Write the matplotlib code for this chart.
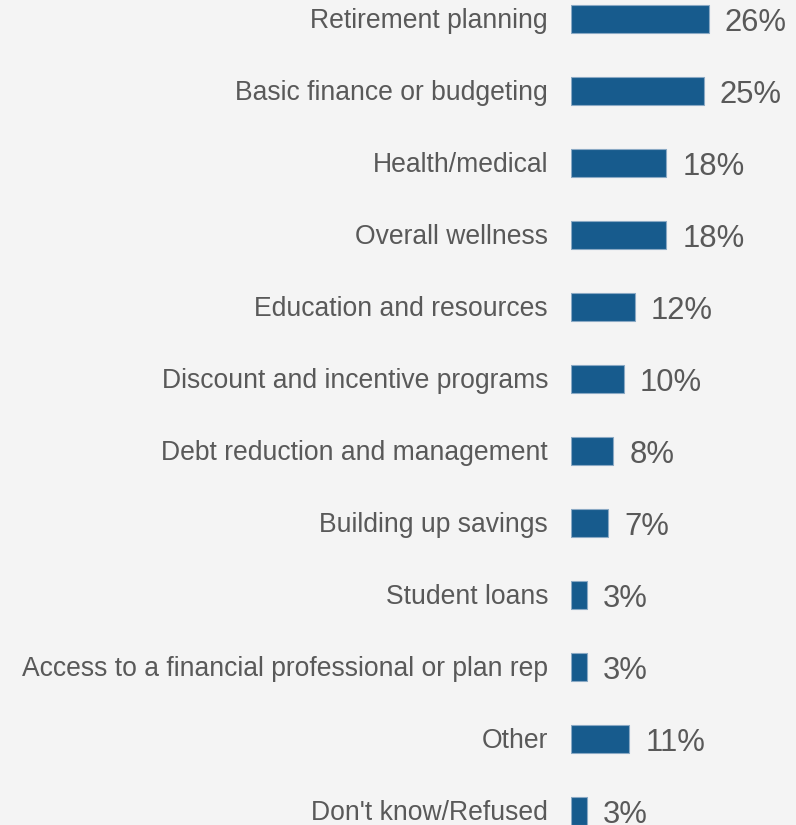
import matplotlib
matplotlib.use("Agg")
import matplotlib.pyplot as plt

plt.rcParams["font.family"] = ["Liberation Sans", "DejaVu Sans"]

# Survey responses, top to bottom
categories = [
    "Retirement planning",
    "Basic finance or budgeting",
    "Health/medical",
    "Overall wellness",
    "Education and resources",
    "Discount and incentive programs",
    "Debt reduction and management",
    "Building up savings",
    "Student loans",
    "Access to a financial professional or plan rep",
    "Other",
    "Don't know/Refused",
]
shares = [26, 25, 18, 18, 12, 10, 8, 7, 3, 3, 11, 3]

bg = "#f4f4f4"
bar_color = "#175b8d"
text_color = "#595959"

fig = plt.figure(figsize=(7.96, 8.25), dpi=100, facecolor=bg)
W, H = 796, 825
left = 571
px_per_pct = 5.3
ax = fig.add_axes([left / W, 0, (W - left) / W, 1])
ax.set_facecolor(bg)

ypos = list(range(len(categories)))
ax.barh(ypos, shares, height=0.40, color=bar_color,
        edgecolor="#8aa9c4", linewidth=0.8)

ax.set_xlim(0, (W - left) / px_per_pct)
# row centres sit at 19 px + 72 px * i from the top
ax.set_ylim((H - 19) / 72, -19 / 72)

for i, (cat, v) in enumerate(zip(categories, shares)):
    ax.annotate(cat, xy=(0, i), xytext=(-23, -1.5), textcoords="offset pixels",
                ha="right", va="center", fontsize=19.1, color=text_color,
                annotation_clip=False)
    ax.annotate(f"{v}%", xy=(v, i), xytext=(16, -4), textcoords="offset pixels",
                ha="left", va="center", fontsize=22.3, color=text_color,
                annotation_clip=False)

ax.axis("off")
fig.savefig("out.png", dpi=100, facecolor=bg)
